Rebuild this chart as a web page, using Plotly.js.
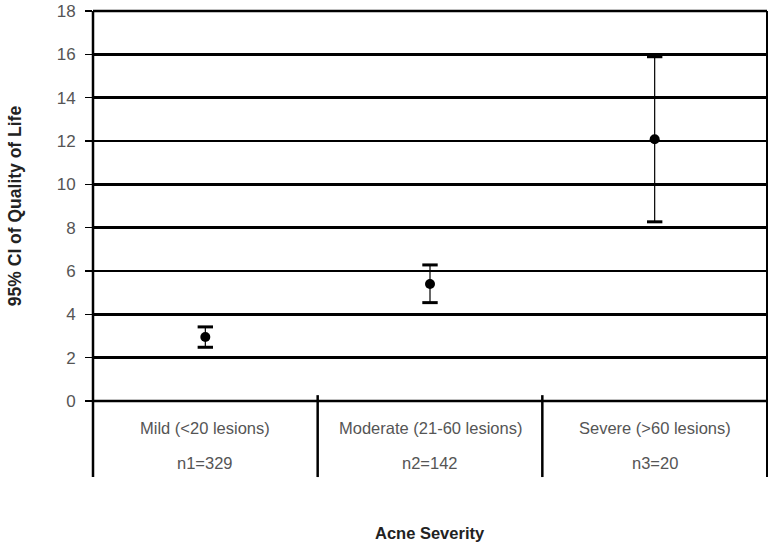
<!DOCTYPE html>
<html>
<head>
<meta charset="utf-8">
<script src="https://cdn.plot.ly/plotly-3.0.1.min.js"></script>
<style>
  html, body { margin: 0; padding: 0; background: #fff; }
  #chart { width: 771px; height: 547px; }
</style>
</head>
<body>
<div id="chart"></div>
<script>
// categories and sample sizes
let categories = ['Mild (<20 lesions)', 'Moderate (21-60 lesions)', 'Severe (>60 lesions)'];
let sampleLabels = ['n1=329', 'n2=142', 'n3=20'];
// mean and 95% CI bounds of quality of life
let means = [2.95, 5.40, 12.08];
let lowerCI = [2.48, 4.54, 8.27];
let upperCI = [3.42, 6.28, 15.89];
let yTicks = [0, 2, 4, 6, 8, 10, 12, 14, 16, 18];

let xPos = categories.map((c, i) => i + 0.5);
let below = -0.195; // how far the category frame goes under the axis (paper units)

let font = 'Liberation Sans, Arial, sans-serif';

let data = [{
    // thin CI whiskers plus dots
    x: xPos,
    y: means,
    type: 'scatter',
    mode: 'markers',
    marker: { color: '#000', size: 10 },
    error_y: {
        type: 'data',
        symmetric: false,
        array: means.map((m, i) => upperCI[i] - m),
        arrayminus: means.map((m, i) => m - lowerCI[i]),
        color: '#000',
        thickness: 1.2,
        width: 0,
    },
    hoverinfo: 'skip',
}, {
    // thick caps at the CI bounds
    x: xPos.concat(xPos),
    y: lowerCI.concat(upperCI),
    type: 'scatter',
    mode: 'markers',
    marker: { symbol: 'line-ew-open', size: 11, color: '#000', line: { color: '#000', width: 3 } },
    hoverinfo: 'skip',
}];

let shapes = [];
// left axis and right border, extended under the plot
shapes.push({ type: 'line', xref: 'paper', yref: 'paper', x0: 0, x1: 0, y0: 1, y1: below,
    line: { color: '#000', width: 2.5 } });
shapes.push({ type: 'line', xref: 'paper', yref: 'paper', x0: 1, x1: 1, y0: 1, y1: below,
    line: { color: '#000', width: 2 } });
// separators between categories
for (let i = 1; i < categories.length; ++i) {
    shapes.push({ type: 'line', xref: 'x', yref: 'paper', x0: i, x1: i, y0: 0.015, y1: below,
        line: { color: '#000', width: 2.5 } });
}
// top gridline at 18 and baseline at 0
shapes.push({ type: 'line', xref: 'paper', yref: 'paper', x0: 0, x1: 1, y0: 1, y1: 1,
    line: { color: '#000', width: 2.5 } });
shapes.push({ type: 'line', xref: 'paper', yref: 'paper', x0: 0, x1: 1, y0: 0, y1: 0,
    line: { color: '#000', width: 2.5 } });

let annotations = [];
for (let i = 0; i < categories.length; ++i) {
    annotations.push({ x: xPos[i], y: 0, xref: 'x', yref: 'paper', yanchor: 'middle',
        yshift: -27, text: categories[i], showarrow: false,
        font: { family: font, size: 16.5, color: '#555' } });
    annotations.push({ x: xPos[i], y: 0, xref: 'x', yref: 'paper', yanchor: 'middle',
        yshift: -62, text: sampleLabels[i], showarrow: false,
        font: { family: font, size: 16.5, color: '#555' } });
}
annotations.push({ x: 1.5, y: 0, xref: 'x', yref: 'paper', yanchor: 'middle',
    yshift: -132, text: '<b>Acne Severity</b>', showarrow: false,
    font: { family: font, size: 16.5, color: '#222' } });

let layout = {
    width: 771,
    height: 547,
    margin: { l: 93, r: 4, t: 11, b: 146, pad: 0 },
    paper_bgcolor: '#fff',
    plot_bgcolor: '#fff',
    showlegend: false,
    font: { family: font },
    xaxis: {
        range: [0, 3],
        showgrid: false,
        zeroline: false,
        showticklabels: false,
        ticks: '',
        showline: false,
        fixedrange: true,
    },
    yaxis: {
        range: [0, 18],
        tickvals: yTicks,
        ticks: 'outside',
        ticklen: 7,
        tickwidth: 1.5,
        tickcolor: '#000',
        ticklabelstandoff: 6,
        tickfont: { family: font, size: 17, color: '#555' },
        showgrid: true,
        gridcolor: '#000',
        gridwidth: 2.5,
        zeroline: false,
        showline: false,
        title: { text: '<b>95% CI of Quality of Life</b>', standoff: 30,
            font: { family: font, size: 17.5, color: '#222' } },
        fixedrange: true,
    },
    shapes: shapes,
    annotations: annotations,
};

Plotly.newPlot('chart', data, layout, { staticPlot: true });
</script>
</body>
</html>
